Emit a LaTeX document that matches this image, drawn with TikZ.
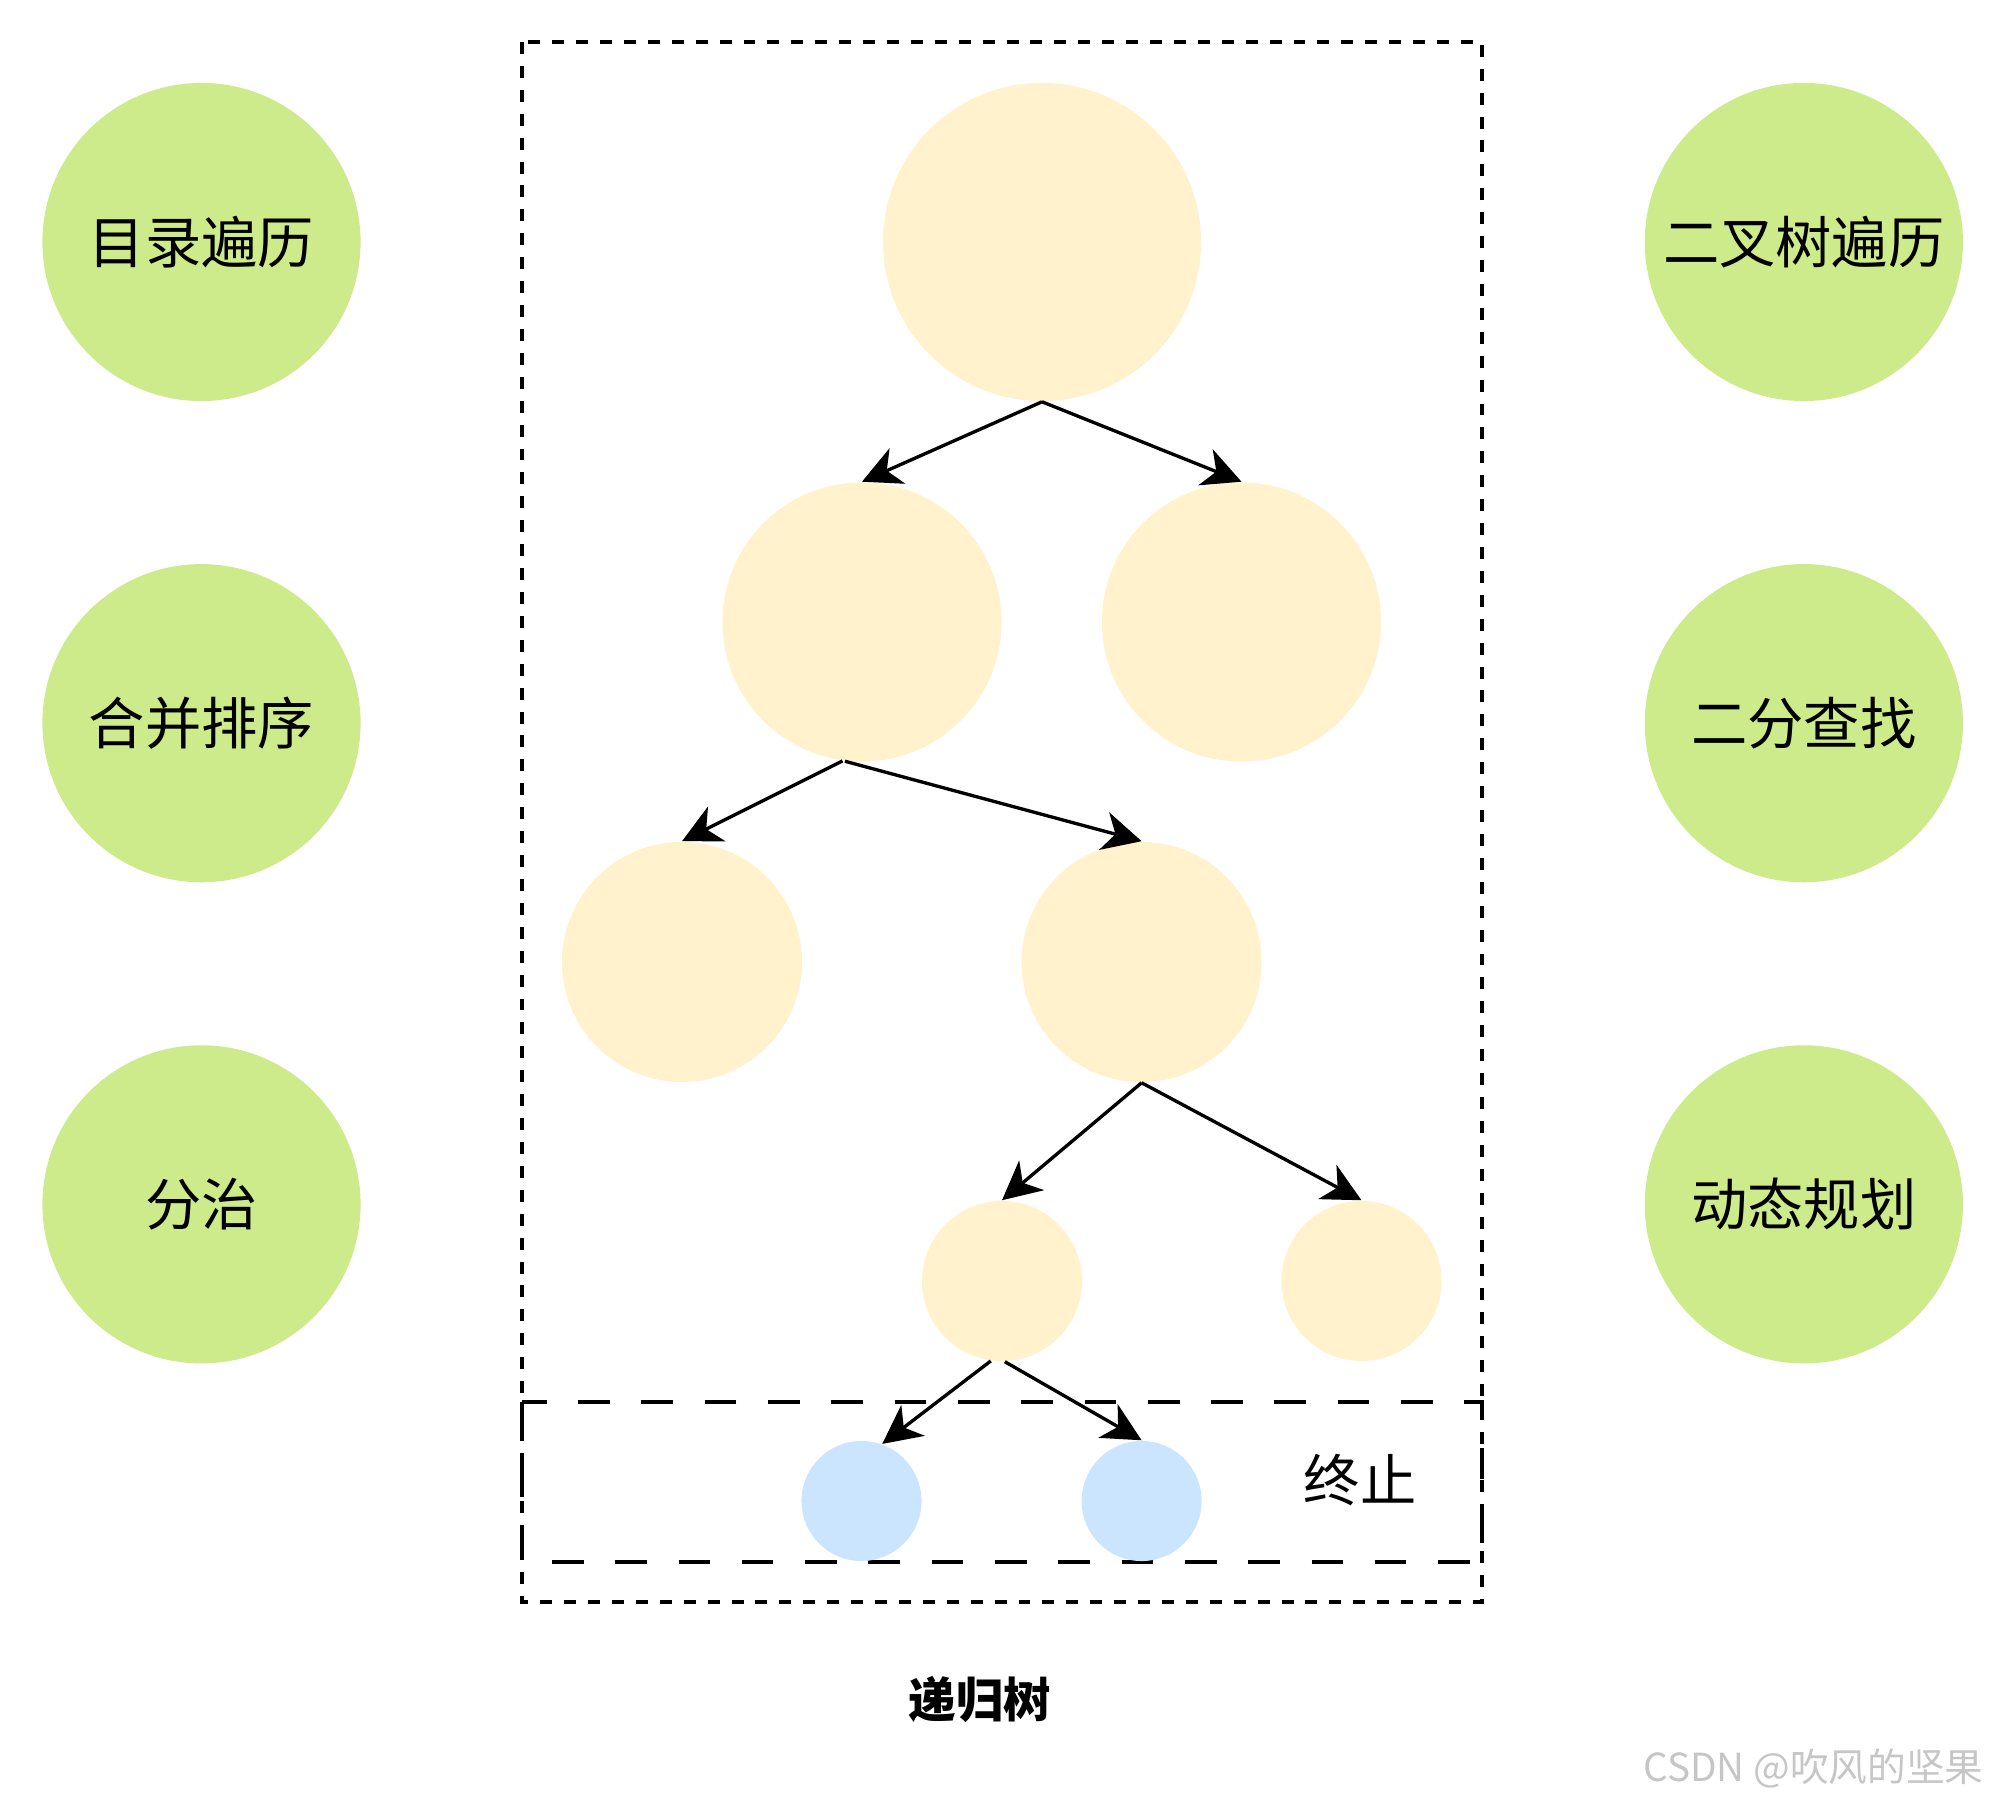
\documentclass[tikz,border=0pt]{standalone}
\usepackage{fontspec}
\setmainfont{Noto Sans CJK SC}
\usepackage{xcolor}
\usetikzlibrary{positioning,arrows.meta}
\definecolor{topicgreen}{HTML}{CDEB8B}
\definecolor{callyellow}{HTML}{FFF2CC}
\definecolor{endblue}{HTML}{CCE5FF}

\begin{document}
\begin{tikzpicture}[
   x=0.01cm, y=-0.01cm,
   node distance = 16.15mm and 128.2mm,
   topic/.style = {circle, fill=topicgreen, inner sep=0pt, minimum size=31.8mm,
                   font=\fontsize{16}{19}\selectfont},
   call/.style  = {circle, fill=callyellow, inner sep=0pt},
   stop/.style  = {circle, fill=endblue, inner sep=0pt, minimum size=12mm},
   arr/.style   = {-{Stealth[length=11pt, width=11pt, inset=3.3pt]}, line width=0.95pt}
]
\useasboundingbox (0,0) rectangle (2000,1804);

% uses of recursion
\node[topic]                    (dir)   at (201.5,242) {目录遍历};
\node[topic, below=of dir]      (msort) {合并排序};
\node[topic, below=of msort]    (dc)    {分治};
\node[topic, right=of dir]      (bt)    {二叉树遍历};
\node[topic, right=of msort]    (bs)    {二分查找};
\node[topic, right=of dc]       (dp)    {动态规划};

% frames
\draw[line width=1pt, dash pattern=on 3.4pt off 3.4pt] (522,42) rectangle (1482,1602);
\draw[line width=1pt, dash pattern=on 9pt off 9pt] (522,1402) rectangle (1482,1562);

% recursion tree
\node[call, minimum size=31.8mm] (root) at (1042,242)  {};
\node[call, minimum size=27.9mm] (ca)   at (862,622)   {};
\node[call, minimum size=27.9mm] (cb)   at (1241.5,622) {};
\node[call, minimum size=24mm]   (caa)  at (682,962)   {};
\node[call, minimum size=24mm]   (cab)  at (1141.6,962) {};
\node[call, minimum size=16mm]   (caba) at (1002,1281) {};
\node[call, minimum size=16mm]   (cabb) at (1361.5,1281) {};
\node[stop]                      (ea)   at (861.5,1501) {};
\node[stop]                      (eb)   at (1141.6,1501) {};

\node[font=\fontsize{16}{19}\selectfont] (halt) at (1360,1480) {终止};
\node[font=\fontsize{13.5}{16}\selectfont\bfseries] (title) at (980,1699) {递归树};
\node[anchor=east, text=gray!45, font=\fontsize{11}{13}\selectfont] (mark) at (1996,1769) {CSDN @吹风的坚果};

\draw[arr] (root.south) -- (ca.north);
\draw[arr] (root.south) -- (cb.north);
\draw[arr] (ca.-98)     -- (caa.north);
\draw[arr] (ca.-97)     -- (cab.north);
\draw[arr] (cab.south)  -- (caba.north);
\draw[arr] (cab.south)  -- (cabb.north);
\draw[arr] (caba.-98)   -- (ea.70);
\draw[arr] (caba.-88)   -- (eb.north);
\end{tikzpicture}
\end{document}
